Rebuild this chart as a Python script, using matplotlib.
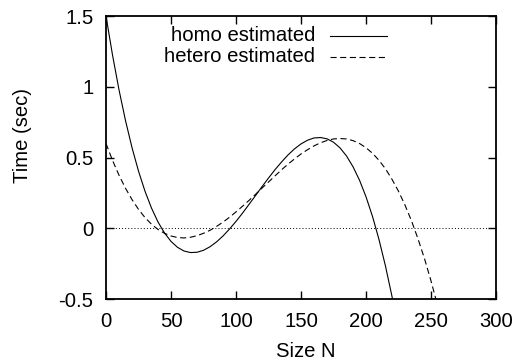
import matplotlib
matplotlib.use("Agg")
import matplotlib.pyplot as plt
from matplotlib.lines import Line2D

plt.rcParams['font.family'] = ['Liberation Sans', 'DejaVu Sans']

# Sizes N (sampled every 5)
size_n = [0, 5, 10, 15, 20, 25, 30, 35, 40, 45, 50, 55, 60, 65, 70, 75, 80, 85,
          90, 95, 100, 105, 110, 115, 120, 125, 130, 135, 140, 145, 150, 155,
          160, 165, 170, 175, 180, 185, 190, 195, 200, 205, 210, 215, 220, 225]
homo_time = [1.500, 1.225, 0.979, 0.762, 0.571, 0.405, 0.263, 0.144, 0.046,
             -0.032, -0.091, -0.133, -0.159, -0.170, -0.168, -0.154, -0.129,
             -0.095, -0.053, -0.004, 0.050, 0.108, 0.170, 0.232, 0.295, 0.356,
             0.415, 0.469, 0.519, 0.562, 0.597, 0.623, 0.639, 0.642, 0.633,
             0.609, 0.569, 0.512, 0.436, 0.341, 0.224, 0.085, -0.078, -0.266,
             -0.480, -0.723]

size_n_het = [0, 5, 10, 15, 20, 25, 30, 35, 40, 45, 50, 55, 60, 65, 70, 75, 80,
              85, 90, 95, 100, 105, 110, 115, 120, 125, 130, 135, 140, 145, 150,
              155, 160, 165, 170, 175, 180, 185, 190, 195, 200, 205, 210, 215,
              220, 225, 230, 235, 240, 245, 250, 255, 260]
hetero_time = [0.600, 0.481, 0.376, 0.284, 0.204, 0.135, 0.077, 0.030, -0.007,
               -0.034, -0.053, -0.064, -0.067, -0.062, -0.051, -0.034, -0.013,
               0.014, 0.045, 0.079, 0.117, 0.157, 0.198, 0.241, 0.285, 0.328,
               0.371, 0.414, 0.454, 0.491, 0.526, 0.556, 0.583, 0.605, 0.621,
               0.632, 0.635, 0.632, 0.620, 0.600, 0.570, 0.531, 0.481, 0.421,
               0.347, 0.263, 0.165, 0.054, -0.073, -0.213, -0.370, -0.542, -0.731]

x_ticks = [0, 50, 100, 150, 200, 250, 300]
y_ticks = [-0.5, 0, 0.5, 1, 1.5]
labels = ['homo estimated', 'hetero estimated']

FS = 14.6

fig = plt.figure(figsize=(5.18, 3.6), dpi=100)
ax = fig.add_axes([106/518, 1-299.3/360, 390/518, 283.3/360])

ax.axhline(0, color='black', lw=0.7, linestyle=(0, (1, 2.2)), zorder=1)
ax.plot(size_n, homo_time, color='black', lw=0.8, solid_joinstyle='round')
ax.plot(size_n_het, hetero_time, color='black', lw=0.8,
        linestyle=(0, (5.5, 3.2)))

ax.set_xlim(0, 300)
ax.set_ylim(-0.5, 1.5)
ax.set_xticks(x_ticks)
ax.set_yticks(y_ticks)
ax.set_xticklabels([f"{v:g}" for v in x_ticks])
ax.set_yticklabels([f"{v:g}" for v in y_ticks])
ax.tick_params(direction='in', top=True, right=True, length=6, width=1.0,
               labelsize=FS)
ax.tick_params(axis='x', pad=9.5)
ax.tick_params(axis='y', pad=9)
for s in ax.spines.values():
    s.set_linewidth(1.3)

ax.set_xlabel('Size N', fontsize=FS)
ax.set_ylabel('Time (sec)', fontsize=FS)
ax.xaxis.set_label_coords(0.5115, -0.152)
ax.yaxis.set_label_coords(-0.19, 0.578)

# gnuplot-style key: right-aligned text followed by line sample
styles = ['-', (0, (5.5, 3.2))]
rows = [0.9305, 0.856]
for lab, ls, yy in zip(labels, styles, rows):
    ax.text(0.536, yy, lab, transform=ax.transAxes, ha='right', va='center',
            fontsize=FS)
    ax.add_line(Line2D([0.574, 0.720], [yy, yy], transform=ax.transAxes,
                       color='black', lw=0.8, linestyle=ls))

fig.savefig('out.png', dpi=100)
